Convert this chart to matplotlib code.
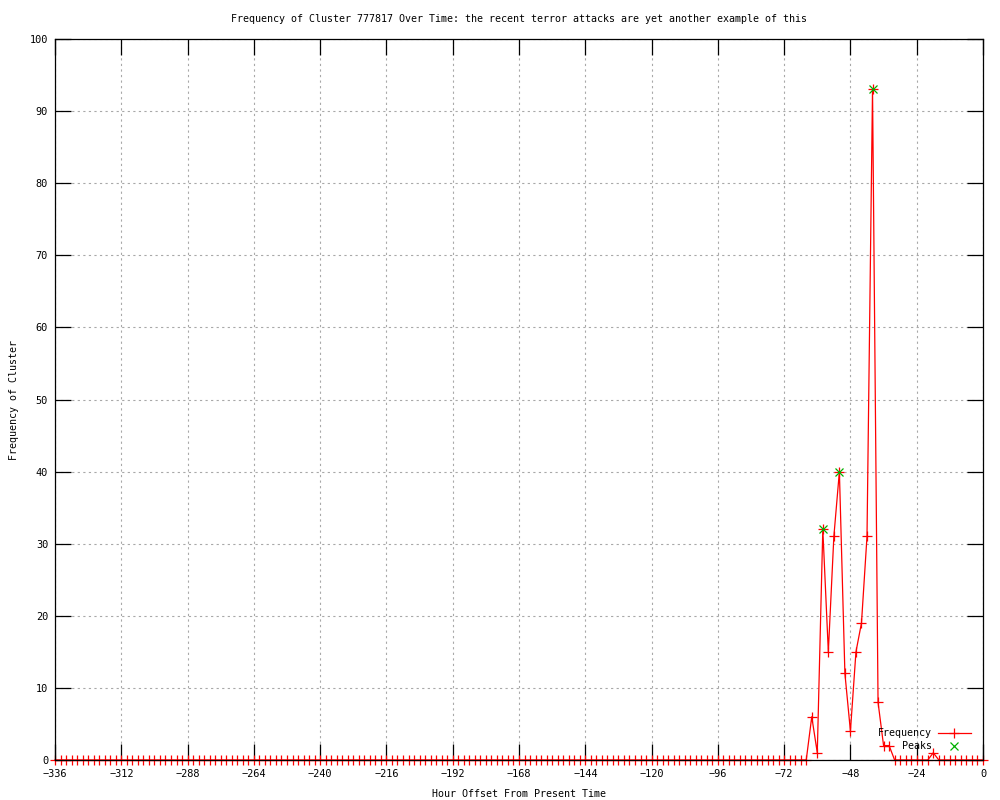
import matplotlib
matplotlib.use("Agg")
import matplotlib.pyplot as plt
import numpy as np

plt.rcParams['font.family'] = ['DejaVu Sans Mono']

# hour offsets (every 2 hours, -336 .. 0)
hours = list(range(-336, 1, 2))
# frequency values per hour offset
frequency = ([0] * 137 +
             [6, 1, 32, 15, 31, 40, 12, 4, 15, 19, 31, 93, 8, 2, 2,
              0, 0, 0, 0, 0, 0, 0, 1] +
             [0] * 9)
peak_hours = [-58, -52, -40]
peak_values = [32, 40, 93]

xticks = list(range(-336, 1, 24))
yticks = list(range(0, 101, 10))

title = "Frequency of Cluster 777817 Over Time: the recent terror attacks are yet another example of this"

fig = plt.figure(figsize=(10, 8), dpi=100)
ax = fig.add_axes([0.055, 0.05, 0.928, 0.90125])

ax.plot(hours, frequency, color='red', linewidth=0.9, marker='+',
        markersize=7, markeredgewidth=0.9, clip_on=False, zorder=3)
ax.plot(peak_hours, peak_values, linestyle='none', color='#00b000',
        marker='x', markersize=6, markeredgewidth=0.9, clip_on=False, zorder=4)

ax.set_xlim(-336, 0)
ax.set_ylim(0, 100)
ax.set_xticks(xticks)
ax.set_yticks(yticks)
ax.tick_params(direction='in', length=11.5, width=0.9, top=True, right=True,
               labelsize=7.4, colors='black')
ax.tick_params(axis='x', pad=6.5)
ax.tick_params(axis='y', pad=5)
ax.grid(True, color='#a8a8a8', linestyle=(0, (2, 3)), linewidth=0.8)
for s in ax.spines.values():
    s.set_linewidth(0.9)
    s.set_zorder(5)

ax.set_title(title, fontsize=7.2, pad=12)
ax.set_xlabel("Hour Offset From Present Time", fontsize=7.2, labelpad=7.5)
ax.set_ylabel("Frequency of Cluster", fontsize=7.2, labelpad=7.5)

# legend (gnuplot style, right-aligned text)
tr = ax.transAxes
ax.text(0.945, 0.0375, "Frequency", transform=tr, ha='right', va='center', fontsize=7.2)
ax.text(0.945, 0.0195, "Peaks", transform=tr, ha='right', va='center', fontsize=7.2)
ax.plot([0.951, 0.987], [0.0375, 0.0375], transform=tr, color='red', linewidth=0.9)
ax.plot([0.969], [0.0375], transform=tr, color='red', marker='+', markersize=7, markeredgewidth=0.9)
ax.plot([0.969], [0.0195], transform=tr, color='#00b000', marker='x', markersize=6, markeredgewidth=0.9, linestyle='none')

fig.savefig("out.png", dpi=100)
